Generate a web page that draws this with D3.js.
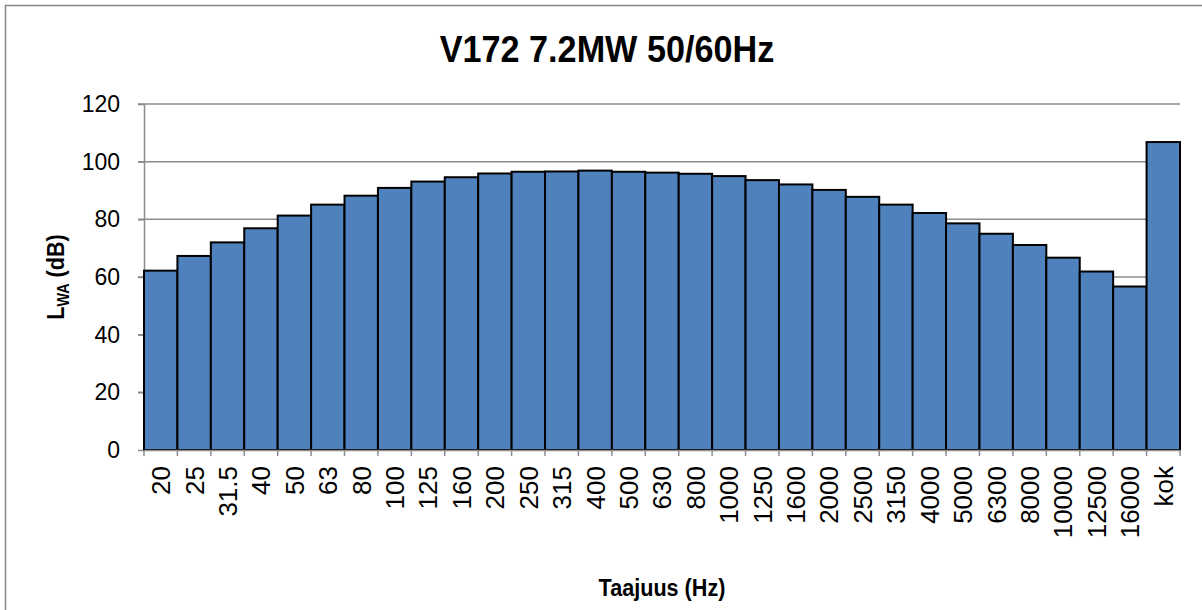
<!DOCTYPE html>
<html>
<head>
<meta charset="utf-8">
<script src="https://cdn.jsdelivr.net/npm/d3@7"></script>
<style>
  html, body { margin: 0; padding: 0; background: #fff; }
  svg { display: block; }
</style>
</head>
<body>
<svg id="chart" width="1202" height="610"></svg>
<script>
const categories = ["20","25","31.5","40","50","63","80","100","125","160","200","250","315","400","500","630","800","1000","1250","1600","2000","2500","3150","4000","5000","6300","8000","10000","12500","16000","kok"];
const values = [62.2,67.3,72.0,76.9,81.3,85.1,88.2,90.9,93.1,94.6,95.9,96.5,96.6,96.9,96.5,96.2,95.8,95.0,93.6,92.1,90.2,87.8,85.1,82.2,78.6,75.0,71.1,66.7,61.9,56.7,106.8];
const yTicks = [0,20,40,60,80,100,120];
const title = "V172 7.2MW 50/60Hz";
const xTitle = "Taajuus (Hz)";

const svg = d3.select("#chart");
const plot = { left: 144, right: 1180, top: 104, bottom: 450 };
const FONT = "'Liberation Sans', Arial, sans-serif";

// chart frame
svg.append("rect")
  .attr("x", 5.5).attr("y", 5.5).attr("width", 1240).attr("height", 640)
  .attr("fill", "#fff").attr("stroke", "#868686").attr("stroke-width", 1.5);

const x = d3.scaleBand().domain(categories).range([plot.left, plot.right]).padding(0);
const y = d3.scaleLinear().domain([0, 120]).range([plot.bottom, plot.top]);

// gridlines
svg.append("g").selectAll("line").data(yTicks.filter(d => d > 0)).join("line")
  .attr("x1", plot.left - 6).attr("x2", plot.right)
  .attr("y1", d => y(d)).attr("y2", d => y(d))
  .attr("stroke", "#8c8c8c").attr("stroke-width", 1.5);

// y axis
const yAxis = svg.append("g").attr("transform", `translate(${plot.left},0)`)
  .call(d3.axisLeft(y).tickValues(yTicks).tickSize(6).tickPadding(18).tickSizeOuter(0));
yAxis.select(".domain").attr("stroke", "#8c8c8c").attr("stroke-width", 1.5);
yAxis.selectAll(".tick line").attr("stroke", "#8c8c8c").attr("stroke-width", 1.5);
yAxis.selectAll(".tick text")
  .attr("font-family", FONT)
  .attr("font-size", 23).attr("fill", "#000");

// bars
svg.append("g").selectAll("rect").data(categories).join("rect")
  .attr("x", d => x(d))
  .attr("y", (d, i) => y(values[i]))
  .attr("width", x.bandwidth())
  .attr("height", (d, i) => y(0) - y(values[i]))
  .attr("fill", "#4f81bd")
  .attr("stroke", "#000").attr("stroke-width", 2);

// x axis
const xAxis = svg.append("g").attr("transform", `translate(0,${plot.bottom})`)
  .call(d3.axisBottom(x).tickSize(0).tickSizeOuter(0).tickPadding(0));
xAxis.select(".domain").attr("stroke", "#8c8c8c").attr("stroke-width", 1.5);
const bounds = categories.map(c => x(c)).concat([plot.right]);
xAxis.append("g").selectAll("line").data(bounds).join("line")
  .attr("x1", d => d).attr("x2", d => d).attr("y1", 0).attr("y2", 6)
  .attr("stroke", "#8c8c8c").attr("stroke-width", 1.5);
xAxis.selectAll(".tick text")
  .attr("font-family", FONT)
  .attr("font-size", 26).attr("fill", "#000")
  .attr("text-anchor", "end")
  .attr("dy", "0.36em")
  .attr("transform", "translate(0,16) rotate(-90)")
  .attr("x", 0).attr("y", 0);

// title
svg.append("text")
  .attr("transform", "translate(607,62) scale(0.95,1)")
  .attr("text-anchor", "middle")
  .attr("font-family", FONT)
  .attr("font-weight", "bold").attr("font-size", 36).attr("fill", "#000")
  .text(title);

// x title
svg.append("text")
  .attr("transform", `translate(${(plot.left + plot.right) / 2},596) scale(0.9,1)`)
  .attr("text-anchor", "middle")
  .attr("font-family", FONT)
  .attr("font-weight", "bold").attr("font-size", 24).attr("fill", "#000")
  .text(xTitle);

// y title with subscript
const yt = svg.append("text")
  .attr("transform", `translate(64,${(plot.top + plot.bottom) / 2}) rotate(-90) scale(0.9,1)`)
  .attr("text-anchor", "middle")
  .attr("font-family", FONT)
  .attr("font-weight", "bold").attr("font-size", 24).attr("fill", "#000");
yt.append("tspan").text("L");
yt.append("tspan").attr("font-size", 16).attr("dy", 5).text("WA");
yt.append("tspan").attr("dy", -5).text(" (dB)");
</script>
</body>
</html>
